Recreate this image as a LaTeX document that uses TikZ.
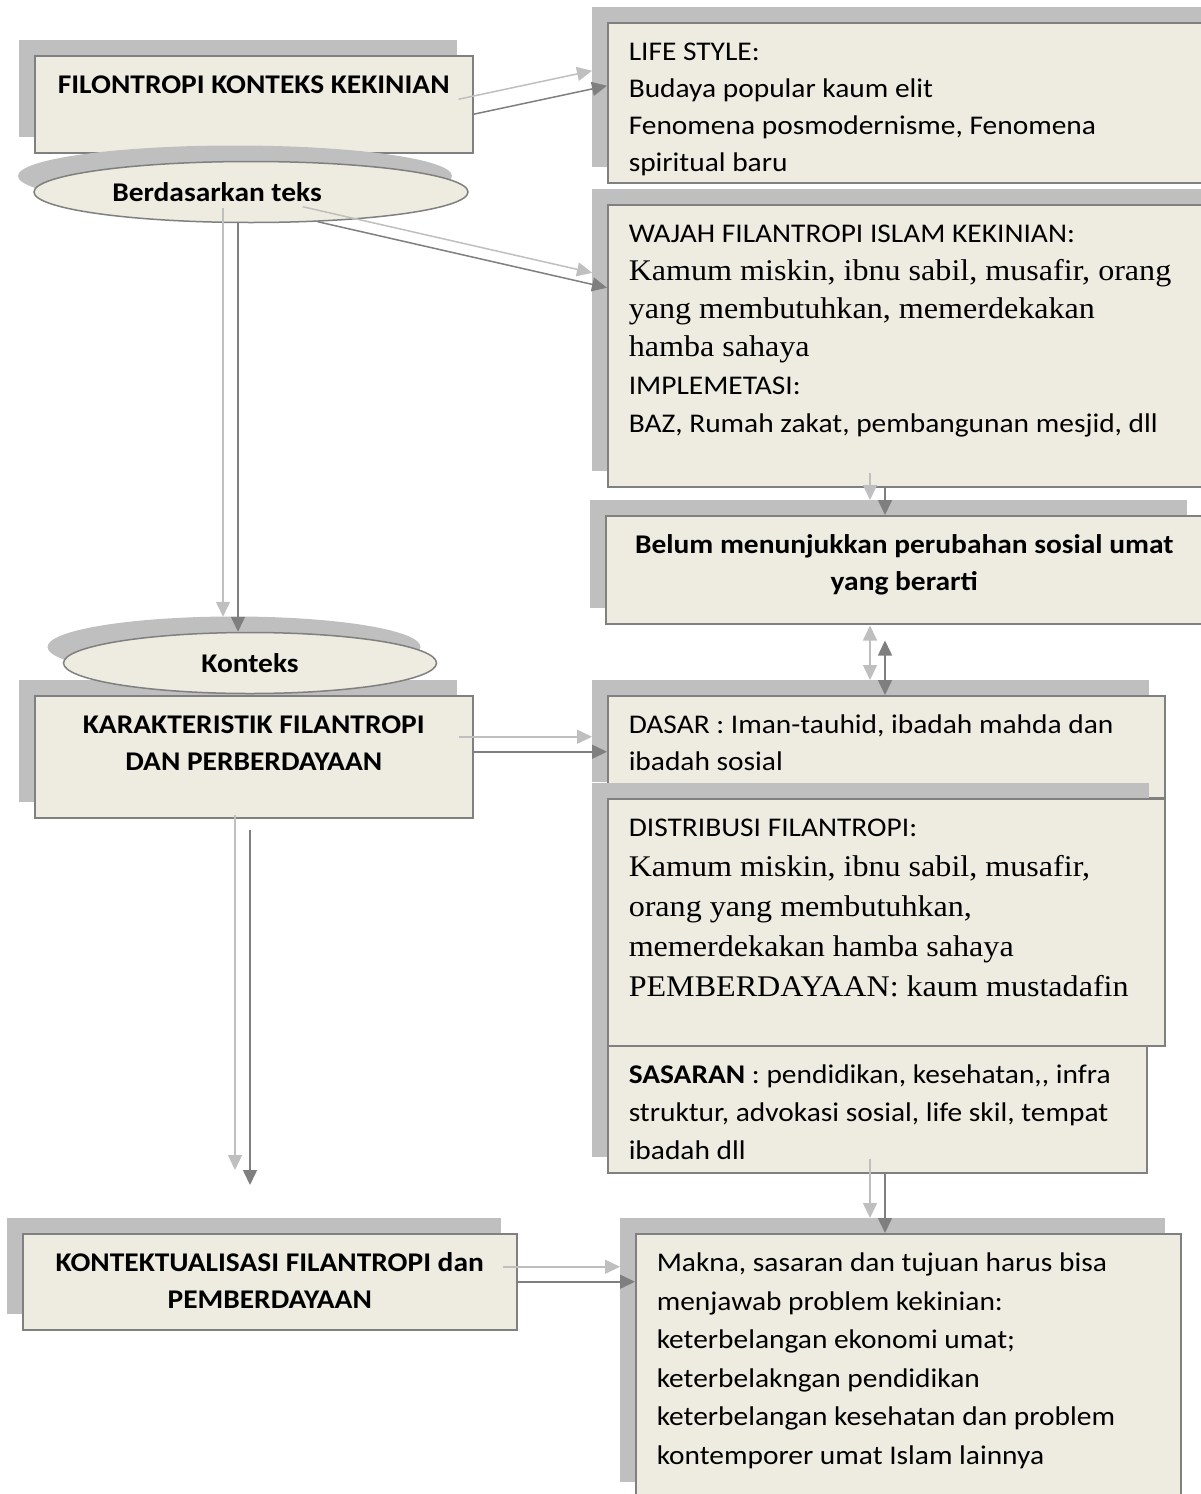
\documentclass[tikz,border=0pt]{standalone}
\usepackage{fontspec}
\setmainfont{Carlito}[FakeStretch=1.09]
\newfontfamily\tnr{Liberation Serif}[FakeStretch=1.07]
\usetikzlibrary{shapes.geometric,shadows,arrows.meta}

\definecolor{boxfill}{HTML}{EEECE1}
\definecolor{boxline}{HTML}{808080}
\definecolor{shadowgray}{HTML}{BFBFBF}
\definecolor{arrowdark}{HTML}{7F7F7F}

% lines that the original sets in Times
\newcommand{\tline}[1]{\mbox{\tnr\fontsize{30}{40}\selectfont #1}}

\begin{document}
\begin{tikzpicture}[x=1pt, y=-1pt, line width=1.5pt]
        \tikzstyle{box}=[rectangle,draw=boxline,fill=boxfill,anchor=north west,inner xsep=21pt,inner ysep=0pt,text height=38pt,align=flush left,font=\fontsize{27}{37}\selectfont,drop shadow={shadow xshift=-16pt,shadow yshift=16pt,fill=shadowgray,opacity=1}]
        \tikzstyle{title}=[box,inner xsep=10pt,align=flush center,font=\fontsize{27}{37}\selectfont\bfseries]
        \tikzstyle{oval}=[ellipse,draw=boxline,fill=boxfill,inner sep=0pt,font=\fontsize{27}{37}\selectfont\bfseries,drop shadow={shadow xshift=-16pt,shadow yshift=16pt,fill=shadowgray,opacity=1}]
        \tikzstyle{arr}=[draw=arrowdark,-{Triangle[length=15pt,width=14pt]}]
        \tikzstyle{arrboth}=[draw=arrowdark,{Triangle[length=15pt,width=14pt]}-{Triangle[length=15pt,width=14pt]}]
        \tikzstyle{arrlight}=[arr,draw=shadowgray,transform canvas={shift={(-15pt,15pt)}}]
        \tikzstyle{arrbothlight}=[arrboth,draw=shadowgray,transform canvas={shift={(-15pt,15pt)}}]

        \useasboundingbox (0,0) rectangle (1200,1494);

        % left column
        \node[title, text width=418pt, text depth=59pt] (filon) at (34,55) {FILONTROPI KONTEKS KEKINIAN};
        \node[oval, minimum width=434pt, minimum height=61pt] (berdasar) at (251,192) {Berdasarkan teks\hspace{68pt}\mbox{}};
        \node[title, text width=418pt, text depth=84pt] (karak) at (34,695) {KARAKTERISTIK FILANTROPI\\DAN PERBERDAYAAN};
        \node[oval, minimum width=373pt, minimum height=61pt] (konteks) at (250,663) {Konteks};
        \node[title, text width=474pt, text depth=58pt] (kontek) at (22,1233) {KONTEKTUALISASI FILANTROPI dan\\PEMBERDAYAAN};

        % right column
        \node[box, text width=600pt, text depth=122pt] (life) at (607,22) {LIFE STYLE:\\Budaya popular kaum elit\\Fenomena posmodernisme, Fenomena\\spiritual baru};
        \node[box, text width=600pt, text depth=244pt, font=\fontsize{27}{38}\selectfont] (wajah) at (607,204) {WAJAH FILANTROPI ISLAM KEKINIAN:\\\tline{Kamum miskin, ibnu sabil, musafir, orang}\\\tline{yang membutuhkan, memerdekakan}\\\tline{hamba sahaya}\\IMPLEMETASI:\\BAZ, Rumah zakat, pembangunan mesjid, dll};
        \node[title, text width=577pt, text depth=70pt] (belum) at (605,515) {Belum menunjukkan perubahan sosial umat\\yang berarti};
        \node[box, text width=515pt, text depth=64pt] (dasar) at (607,695) {DASAR : Iman-tauhid, ibadah mahda dan\\ibadah sosial};
        \node[box, text width=497pt, text depth=89pt, font=\fontsize{27}{38}\selectfont] (sasaran) at (607,1045) {\textbf{SASARAN} : pendidikan, kesehatan,{},\ infra\\struktur, advokasi sosial, life skil, tempat\\ibadah dll};
        \node[box, text width=515pt, text depth=209pt, font=\fontsize{27}{40}\selectfont] (distrib) at (607,798) {DISTRIBUSI FILANTROPI:\\\tline{Kamum miskin, ibnu sabil, musafir,}\\\tline{orang yang membutuhkan,}\\\tline{memerdekakan hamba sahaya}\\\tline{PEMBERDAYAAN: kaum mustadafin}};
        \node[box, text width=503pt, text depth=226pt, font=\fontsize{27}{38.5}\selectfont] (makna) at (635,1233) {Makna, sasaran dan tujuan harus bisa\\menjawab problem kekinian:\\keterbelangan ekonomi umat;\\keterbelakngan pendidikan\\keterbelangan kesehatan dan problem\\kontemporer umat Islam lainnya};

        \coordinate (col) at (885,0);
        \coordinate (kdown) at (250,1185);
        \coordinate (karakout) at ([yshift=5pt]karak.east);

        % connectors, each with its light copy
        \draw[arrlight] ([yshift=-10pt]filon.east) -- ([yshift=17pt]life.west);
        \draw[arr] ([yshift=-10pt]filon.east) -- ([yshift=17pt]life.west);
        \draw[arrlight] (berdasar.-24) -- ([yshift=58pt]wajah.west);
        \draw[arr] (berdasar.-24) -- ([yshift=58pt]wajah.west);
        \draw[arrlight] ([xshift=-13pt]berdasar.south) -- ([xshift=-12pt]konteks.north);
        \draw[arr] ([xshift=-13pt]berdasar.south) -- ([xshift=-12pt]konteks.north);
        \draw[arrlight] (karakout) -- (karakout -| dasar.west);
        \draw[arr] (karakout) -- (karakout -| dasar.west);
        \draw[arrlight, shorten <=11pt] (kdown |- karak.south) -- (kdown);
        \draw[arr, shorten <=11pt] (kdown |- karak.south) -- (kdown);
        \draw[arrlight] (kontek.east) -- (kontek.east -| makna.west);
        \draw[arr] (kontek.east) -- (kontek.east -| makna.west);
        \draw[arrlight] (col |- wajah.south) -- (col |- belum.north);
        \draw[arr] (col |- wajah.south) -- (col |- belum.north);
        \draw[arrbothlight, shorten <=16pt] (col |- belum.south) -- (col |- dasar.north);
        \draw[arrboth, shorten <=16pt] (col |- belum.south) -- (col |- dasar.north);
        \draw[arrlight] (col |- sasaran.south) -- (col |- makna.north);
        \draw[arr] (col |- sasaran.south) -- (col |- makna.north);
\end{tikzpicture}
\end{document}
